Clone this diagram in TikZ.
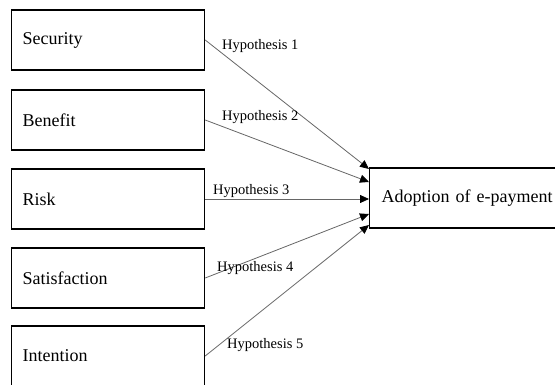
\documentclass[tikz,border=0pt]{standalone}
\usepackage{fontspec}
\setmainfont{Liberation Serif}
\usetikzlibrary{arrows.meta}

\begin{document}
\begin{tikzpicture}[x=1pt,y=-1pt,
    factor/.style={draw,line width=1.2pt,anchor=west,minimum height=60pt,text width=171pt,align=left,inner sep=11pt,font=\fontsize{18}{20}\selectfont},
    hyp/.style={draw=black!60,line width=0.8pt,-{Triangle[color=black,length=9pt,width=8pt]}},
    hlabel/.style={anchor=west,inner sep=0pt,font=\fontsize{14.5}{16}\selectfont}]
    \useasboundingbox (0,0) rectangle (555,385);
    \clip (0,0) rectangle (555,385);
        \node at (11,40) [factor] (sec) {Security};
        \node at (11,120) [factor] (ben) {Benefit};
        \node at (11,199) [factor] (risk) {Risk};
        \node at (11,278) [factor] (sat) {Satisfaction};
        \node at (11,356) [factor] (int) {Intention};
        \node at (369,198) [factor,text width=200pt,inner sep=12pt] (adopt) {Adoption of e-payment};
        \coordinate (t1) at (369,169);
        \coordinate (t2) at (369,182);
        \coordinate (t3) at (369,199);
        \coordinate (t4) at (369,214);
        \coordinate (t5) at (369,225);
        \draw[hyp] (sec.east) -- (t1);
        \draw[hyp] (ben.east) -- (t2);
        \draw[hyp] (risk.east) -- (t3);
        \draw[hyp] (sat.east) -- (t4);
        \draw[hyp] (int.east) -- (t5);
        \node at (222,46) [hlabel] (l1) {Hypothesis 1};
        \node at (222,117) [hlabel] (l2) {Hypothesis 2};
        \node at (213,191) [hlabel] (l3) {Hypothesis 3};
        \node at (217,268) [hlabel] (l4) {Hypothesis 4};
        \node at (227,345) [hlabel] (l5) {Hypothesis 5};
    \end{tikzpicture}
\end{document}
